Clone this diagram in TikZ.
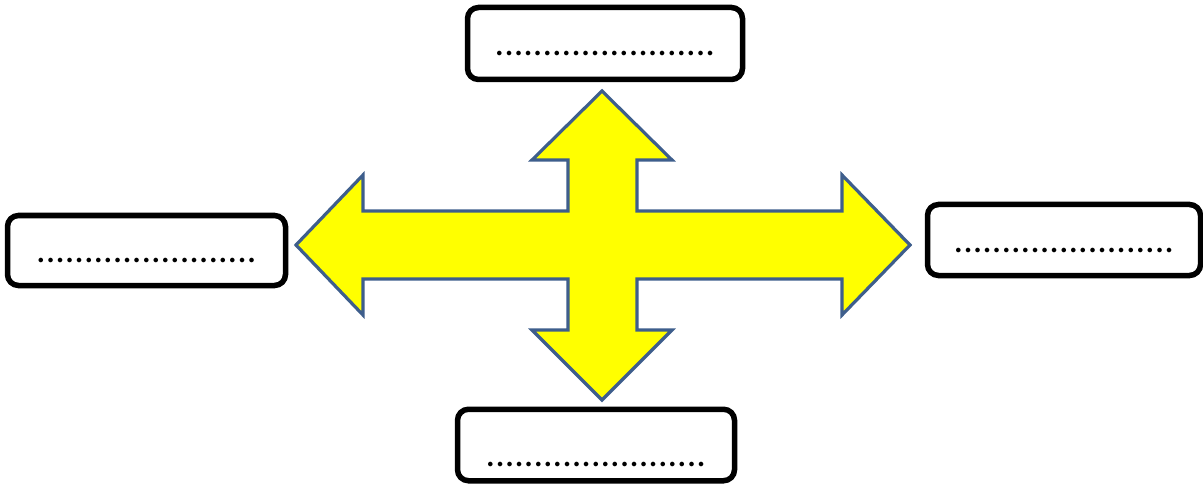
\documentclass[tikz,border=0pt]{standalone}
\usepackage{fontspec}
\setmainfont{Carlito}
\usepackage{tikz}
\definecolor{arrowedge}{RGB}{62,94,140}
\definecolor{arrowfill}{RGB}{255,255,0}
\tikzset{
  blankbox/.style={draw=black,line width=5.5pt,rounded corners=11pt,fill=white,
    inner sep=0pt,text height=24pt,text depth=0pt,
    font=\fontsize{38}{44}\selectfont},
}
\newcommand{\blankline}{.......................}
\begin{document}
\begin{tikzpicture}[x=1pt,y=-1pt]
\useasboundingbox (0,0) rectangle (1203,484);
% objects at depth 50:
\path[draw=arrowedge,fill=arrowfill,line width=3.2pt,line join=miter]
  (602,91) -- (672,160) -- (637,160) -- (637,211) -- (842,211) -- (842,175)
  -- (910,245) -- (842,315) -- (842,279) -- (637,279) -- (637,330)
  -- (672,330) -- (602,400) -- (532,330) -- (568,330) -- (568,279)
  -- (363,279) -- (363,315) -- (296,245) -- (363,175) -- (363,211)
  -- (568,211) -- (568,160) -- (532,160) -- cycle;
% objects at depth 40:
\node[blankbox,minimum width=275pt,minimum height=72pt] (topbox) at (605,43.5) {\blankline};
\node[blankbox,minimum width=278pt,minimum height=70pt] (leftbox) at (146.5,250.5) {\blankline};
\node[blankbox,minimum width=273pt,minimum height=71pt] (rightbox) at (1064,240) {\blankline};
\node[blankbox,minimum width=277pt,minimum height=71.5pt,text height=42pt] (bottombox) at (596,445) {\blankline};
\end{tikzpicture}
\end{document}
